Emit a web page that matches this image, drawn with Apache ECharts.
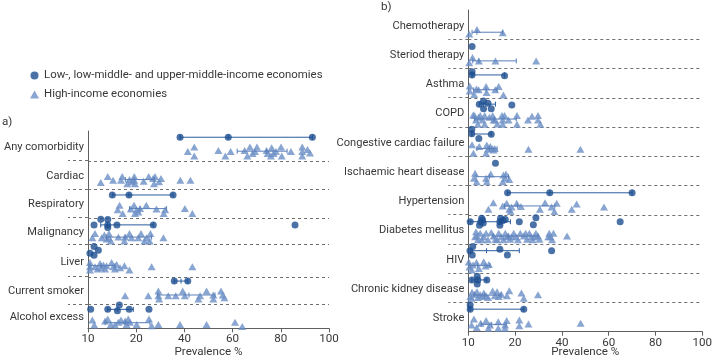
<!DOCTYPE html>
<html><head><meta charset="utf-8">
<script src="https://cdn.jsdelivr.net/npm/echarts@6/dist/echarts.min.js"></script>
<style>html,body{margin:0;padding:0;background:#fff}#c{width:717px;height:360px}</style>
</head><body><div id="c"></div>
<script>
// ---------- categories & ticks ----------
const categoriesA = ['Any comorbidity','Cardiac','Respiratory','Malignancy','Liver','Current smoker','Alcohol excess'];
const categoriesB = ['Chemotherapy','Steriod therapy','Asthma','COPD','Congestive cardiac failure','Ischaemic heart disease','Hypertension','Diabetes mellitus','HIV','Chronic kidney disease','Stroke'];
const xTickValues = [0,20,40,60,80,100];
const xTickLabels = ['10','20','40','60','80','100'];
const legendNames = ['Low-, low-middle- and upper-middle-income economies','High-income economies'];

// ---------- panel a: [prevalence, position within row (0 top .. 1 bottom)] ----------
const lowIncomeA = [
  [[38.2,0.21],[58.2,0.21],[93.1,0.21]],
  [],
  [[10.1,0.2],[17.0,0.2],[35.3,0.2]],
  [[2.5,0.27],[5.3,0.06],[8.2,0.07],[8.2,0.27],[8.2,0.37],[12.0,0.27],[27.1,0.27],[85.9,0.27]],
  [[2.5,0.07],[4.3,0.18],[0.8,0.28],[2.5,0.34]],
  [[35.8,0.16],[41.4,0.16]],
  [[1.1,0.22],[8.2,0.22],[12.2,0.28],[13.0,0.04],[17.1,0.22],[25.3,0.22]]
];
const highIncomeA = [
  [[41.4,0.69],[44.1,0.54],[44.1,0.84],[54.1,0.66],[57.0,0.84],[59.2,0.69],[65.0,0.66],[66.1,0.84],[67.2,0.54],[68.3,0.76],[69.3,0.69],[70.1,0.54],[74.1,0.66],[74.5,0.76],[76.2,0.56],[75.9,0.84],[77.0,0.76],[78.0,0.69],[80.1,0.54],[80.4,0.84],[84.2,0.69],[88.9,0.54],[88.9,0.69],[88.9,0.84],[91.1,0.62],[92.1,0.74]],
  [[5.3,0.76],[8.2,0.55],[10.4,0.68],[14.2,0.55],[13.7,0.68],[16.3,0.81],[17.2,0.66],[18.1,0.74],[19.2,0.55],[19.2,0.68],[19.5,0.81],[23.1,0.72],[25.2,0.55],[27.0,0.62],[27.4,0.81],[27.8,0.55],[30.3,0.62],[29.5,0.74],[38.3,0.68],[42.5,0.68]],
  [[12.3,0.72],[13.1,0.56],[14.4,0.85],[17.8,0.69],[19.1,0.56],[19.5,0.85],[20.2,0.72],[20.9,0.8],[21.6,0.68],[24.2,0.56],[28.4,0.69],[32.0,0.72],[31.4,0.85],[40.2,0.68],[43.3,0.85]],
  [[1.8,0.75],[2.9,0.59],[5.7,0.75],[6.8,0.65],[7.7,0.8],[8.7,0.59],[8.7,0.75],[9.5,0.88],[12.6,0.73],[15.1,0.88],[15.4,0.73],[17.2,0.59],[18.1,0.75],[20.9,0.75],[22.0,0.59],[23.4,0.88],[24.3,0.75],[25.9,0.59],[25.6,0.88],[31.3,0.75]],
  [[0.8,0.56],[0.8,0.69],[0.8,0.79],[2.9,0.69],[4.0,0.76],[5.0,0.59],[5.4,0.72],[6.4,0.64],[7.1,0.76],[7.7,0.66],[9.8,0.56],[10.5,0.69],[11.2,0.76],[11.9,0.62],[13.3,0.72],[15.1,0.66],[17.2,0.79],[26.4,0.69],[43.3,0.69]],
  [[15.4,0.7],[25.0,0.7],[29.2,0.52],[29.2,0.7],[29.5,0.82],[33.3,0.7],[36.4,0.7],[39.3,0.52],[40.2,0.7],[45.8,0.82],[46.5,0.7],[49.2,0.52],[52.0,0.67],[52.0,0.82],[55.2,0.52],[55.9,0.67],[56.6,0.77]],
  [[1.8,0.66],[2.6,0.86],[7.1,0.7],[8.2,0.62],[9.5,0.84],[11.2,0.86],[12.6,0.75],[13.7,0.66],[15.4,0.7],[16.0,0.84],[16.7,0.62],[17.4,0.75],[20.2,0.84],[26.4,0.9],[25.3,0.62],[29.2,0.84],[38.2,0.84],[49.2,0.84],[61.0,0.75],[64.0,0.93]]
];
// summary lines: [low, middle, high, position within row]
const lowRangeA = [[38.2,58.2,93.1,0.21],null,[10.1,17.0,35.3,0.2],[5.3,8.2,27.1,0.27],null,[35.8,38.6,41.4,0.16],[8.2,12.2,18.8,0.22]];
const highRangeA = [[61.9,74,82.6,0.68],[15.5,19.2,27.5,0.66],[17.2,21.6,32.6,0.68],[7.7,15.4,26.4,0.73],[0.8,5.4,11.2,0.66],[28.9,41.9,52.7,0.67],[7.1,15.4,25.7,0.77]];

// ---------- panel b ----------
const lowIncomeB = [
  [],
  [[1.6,0.25]],
  [[1.6,0.11],[1.6,0.22],[15.5,0.25]],
  [[6.5,0.11],[4.7,0.22],[8.4,0.19],[6.5,0.38],[9.8,0.38],[18.6,0.25]],
  [[1.5,0.08],[1.5,0.23],[9.8,0.25],[4.5,0.39]],
  [[11.6,0.24]],
  [[16.8,0.25],[34.8,0.25],[70.0,0.25]],
  [[0.8,0.24],[4.8,0.36],[5.3,0.25],[5.7,0.12],[6.1,0.18],[6.4,0.28],[13.5,0.24],[13.5,0.36],[13.8,0.12],[14.8,0.2],[15.8,0.16],[21.8,0.24],[27.8,0.34],[28.9,0.1],[64.9,0.24]],
  [[1.9,0.09],[0.7,0.23],[1.7,0.38],[13.5,0.18],[16.7,0.38],[35.6,0.23]],
  [[3.8,0.1],[1.5,0.23],[4.1,0.23],[7.9,0.23],[3.8,0.37]],
  [[0.8,0.09],[0.8,0.23],[23.7,0.23]]
];
const highIncomeB = [
  [[0.4,0.82],[3.7,0.67],[14.7,0.78]],
  [[1.8,0.62],[0.4,0.8],[4.5,0.74],[11.6,0.74],[29.0,0.74]],
  [[0.6,0.6],[0.6,0.77],[2.5,0.89],[3.5,0.7],[4.4,0.73],[7.6,0.62],[7.8,0.82],[11.5,0.73],[13.0,0.62],[15.0,0.91]],
  [[2.1,0.59],[2.7,0.61],[3.3,0.76],[4.1,0.91],[4.4,0.67],[5.1,0.61],[6.1,0.76],[7.0,0.91],[7.0,0.61],[9.0,0.67],[10.4,0.61],[10.8,0.76],[11.4,0.76],[12.4,0.9],[14.4,0.61],[14.7,0.76],[15.5,0.61],[14.7,0.91],[17.2,0.76],[20.8,0.61],[20.8,0.91],[25.5,0.76],[27.2,0.63],[29.8,0.61],[29.8,0.76],[30.8,0.91]],
  [[1.6,0.61],[2.2,0.9],[4.7,0.67],[7.9,0.62],[8.3,0.76],[9.4,0.67],[10.2,0.74],[10.8,0.79],[11.3,0.74],[7.6,0.9],[25.7,0.76],[47.9,0.76]],
  [[2.9,0.58],[2.4,0.75],[3.6,0.87],[7.6,0.75],[9.6,0.61],[7.9,0.87],[15.0,0.64],[15.7,0.75],[16.1,0.61],[17.5,0.8],[14.7,0.87]],
  [[8.6,0.81],[10.7,0.59],[14.7,0.7],[16.4,0.61],[17.5,0.81],[18.5,0.74],[18.1,0.89],[20.7,0.61],[22.5,0.72],[30.6,0.81],[32.8,0.59],[35.6,0.74],[36.8,0.89],[37.8,0.61],[44.2,0.81],[46.3,0.63],[58.0,0.74]],
  [[3.3,0.58],[3.7,0.73],[4.1,0.86],[5.1,0.63],[6.6,0.75],[7.6,0.63],[8.4,0.86],[9.8,0.61],[10.8,0.73],[11.6,0.84],[13.0,0.63],[14.1,0.75],[15.1,0.86],[15.8,0.63],[17.2,0.73],[17.9,0.84],[19.4,0.63],[20.4,0.75],[21.2,0.86],[22.2,0.63],[23.7,0.73],[25.1,0.84],[26.1,0.63],[26.9,0.75],[27.5,0.86],[28.9,0.63],[29.8,0.73],[30.4,0.84],[34.6,0.63],[35.1,0.75],[35.8,0.86],[42.2,0.73],[2.9,0.75],[5.8,0.86],[12.4,0.86],[16.5,0.75],[18.5,0.75],[24.5,0.63],[28.2,0.75],[34.2,0.75],[36.4,0.63]],
  [[0.2,0.62],[0.5,0.79],[2.0,0.72],[3.5,0.63],[4.5,0.84],[6.6,0.61],[7.4,0.75],[8.8,0.7],[1.5,0.89]],
  [[1.6,0.65],[0.9,0.8],[1.3,0.86],[2.7,0.72],[3.7,0.63],[4.1,0.83],[5.1,0.74],[5.9,0.8],[6.6,0.68],[7.6,0.77],[8.4,0.83],[10.4,0.61],[11.3,0.77],[12.3,0.63],[13.0,0.8],[14.1,0.72],[16.5,0.77],[17.5,0.6],[22.7,0.68],[23.7,0.86],[29.8,0.74]],
  [[2.4,0.57],[1.4,0.77],[3.6,0.86],[5.3,0.71],[7.6,0.62],[9.3,0.77],[8.6,0.88],[12.8,0.66],[12.8,0.88],[15.7,0.77],[16.4,0.62],[15.7,0.88],[21.8,0.6],[21.8,0.8],[25.7,0.74],[48.0,0.71]]
];
const lowRangeB = [null,null,[1.6,1.6,15.5,0.22],[4.7,6.5,11.6,0.22],[1.5,1.5,9.8,0.24],null,[16.8,34.8,70.0,0.25],[0.8,13.5,18.0,0.24],[0.8,7.8,21.8,0.23],[1.5,3.9,7.9,0.23],[0.8,0.8,23.7,0.23]];
const highRangeB = [[1.6,3.7,14.7,0.76],[1.9,4.5,20.5,0.74],[2.3,7.6,12.3,0.73],[2.6,11.0,20.5,0.73],[3.7,9.0,12.3,0.74],[3.3,9.0,17.2,0.7],[15.5,21.0,37.0,0.7],[10.5,17.0,29.8,0.73],[0.7,4.0,9.3,0.74],[2.5,7.0,14.0,0.75],[5.5,10.0,16.2,0.75]];

// ---------- layout: relative heights of the rows ----------
const rowWeightsA = [29.7,28.6,28.4,26.6,32.4,27.3,24.3];
const rowWeightsB = [1,1,1,1,1,1,1,1,1,1,1];

// ---------- styles ----------
const FONT = 'Roboto';
const FS = 11.6;
const FS_CAT = 11.1;
const FS_LEG = 11.4;
const TXT = '#383838';
const DARK = '#1d4f91';
const LIGHT = '#6c8ec6';
const DASH = {color:'#6f6f6f', width:1, type:[3,3]};

function edgesOf(w){ const e=[0]; w.forEach(v=>e.push(e[e.length-1]+v)); return e; }
function points(groups, w){
  const e = edgesOf(w), out = [];
  groups.forEach((g,i)=>g.forEach(p=>out.push([p[0], e[i] + p[1]*w[i]])));
  return out;
}
function ranges(list, w){
  const e = edgesOf(w), out = [];
  list.forEach((r,i)=>{ if(r) out.push([r[0], r[1], r[2], e[i] + r[3]*w[i]]); });
  return out;
}
function renderRange(params, api){
  const y = api.value(3);
  const a = api.coord([api.value(0), y]);
  const m = api.coord([api.value(1), y]);
  const b = api.coord([api.value(2), y]);
  const h = 2.5;
  const style = {stroke: api.visual('color'), lineWidth: 1, fill: null};
  return {type:'group', children:[
    {type:'line', shape:{x1:a[0], y1:a[1], x2:b[0], y2:b[1]}, style},
    {type:'line', shape:{x1:a[0], y1:a[1]-h, x2:a[0], y2:a[1]+h}, style},
    {type:'line', shape:{x1:b[0], y1:b[1]-h, x2:b[0], y2:b[1]+h}, style},
    {type:'line', shape:{x1:m[0], y1:m[1]-h, x2:m[0], y2:m[1]+h}, style}
  ]};
}
function renderSeparator(params, api){
  const a = api.coord([api.value(0), api.value(1)]);
  const b = api.coord([api.value(2), api.value(1)]);
  return {type:'line', shape:{x1:a[0], y1:Math.round(a[1])+0.5, x2:b[0], y2:Math.round(b[1])+0.5},
    style:{stroke:DASH.color, lineWidth:1, lineDash:[3,3], fill:null}};
}
function xAxisFor(gi, gap){
  return {
    type:'value', gridIndex:gi, min:0, max:100, interval:20,
    axisLine:{show:true, onZero:false, lineStyle:{color:'#5f5f5f', width:1}},
    axisTick:{show:true, length:4, lineStyle:{color:'#5f5f5f'}},
    axisLabel:{color:TXT, fontSize:FS, fontFamily:FONT, margin:5,
      formatter: v => { const k = xTickValues.indexOf(v); return k >= 0 ? xTickLabels[k] : ''; }},
    splitLine:{show:false},
    name:'Prevalence %', nameLocation:'middle', nameGap:gap, nameMoveOverlap:false,
    nameTextStyle:{color:TXT, fontSize:FS, fontFamily:FONT}
  };
}
function yAxisFor(gi, cats, w){
  const e = edgesOf(w);
  return {
    type:'value', gridIndex:gi, inverse:true, min:0, max:e[e.length-1],
    axisLine:{show:true, onZero:false, lineStyle:{color:'#5f5f5f', width:1}},
    axisTick:{show:true, inside:false, length:20, customValues: e.slice(1, -1), lineStyle:DASH},
    axisLabel:{customValues: cats.map((_,i)=>e[i] + w[i]*0.54),
      formatter: v => { for (let i=0;i<cats.length;i++){ if (v>=e[i] && v<e[i+1]) return cats[i]; } return ''; },
      color:TXT, fontSize:FS_CAT, fontFamily:FONT, margin:4},
    splitLine:{show:false}
  };
}
function panelSeries(gi, low, high, lowR, highR, w){
  const e = edgesOf(w);
  return [
    {type:'custom', xAxisIndex:gi, yAxisIndex:gi, renderItem:renderSeparator,
      encode:{x:[0,2], y:1}, data:e.slice(1,-1).map(v=>[0, v, 100]), z:1, silent:true},
    {type:'scatter', name:legendNames[1], xAxisIndex:gi, yAxisIndex:gi, symbol:'triangle', symbolSize:[8,7],
      itemStyle:{color:LIGHT}, data:points(high, w), z:2, silent:true},
    {type:'custom', xAxisIndex:gi, yAxisIndex:gi, renderItem:renderRange, itemStyle:{color:'#5a7fba'},
      encode:{x:[0,1,2], y:3}, data:ranges(highR, w), z:3, silent:true},
    {type:'custom', xAxisIndex:gi, yAxisIndex:gi, renderItem:renderRange, itemStyle:{color:'#2a5c9e'},
      encode:{x:[0,1,2], y:3}, data:ranges(lowR, w), z:4, silent:true},
    {type:'scatter', name:legendNames[0], xAxisIndex:gi, yAxisIndex:gi, symbol:'circle', symbolSize:7,
      itemStyle:{color:DARK}, data:points(low, w), z:5, silent:true}
  ];
}

const chart = echarts.init(document.getElementById('c'), null, {renderer:'canvas'});
chart.setOption({
  animation:false,
  backgroundColor:'#fff',
  textStyle:{fontFamily:FONT},
  title:[
    {text:'a)', left:-3, top:111, textStyle:{fontSize:FS, fontWeight:'normal', color:TXT, fontFamily:FONT}},
    {text:'b)', left:376, top:-4, textStyle:{fontSize:FS, fontWeight:'normal', color:TXT, fontFamily:FONT}}
  ],
  legend:{
    orient:'vertical', left:25, top:65, itemGap:8, itemWidth:9, itemHeight:8,
    textStyle:{color:TXT, fontSize:FS_LEG, fontFamily:FONT},
    data:[{name:legendNames[0], icon:'circle'},{name:legendNames[1], icon:'triangle'}]
  },
  grid:[
    {left:88, right:388, top:131, bottom:31.7, outerBoundsMode:'none', containLabel:false},
    {left:468.3, right:14.7, top:10, bottom:28.3, outerBoundsMode:'none', containLabel:false}
  ],
  xAxis:[xAxisFor(0, 18), xAxisFor(1, 14)],
  yAxis:[yAxisFor(0, categoriesA, rowWeightsA), yAxisFor(1, categoriesB, rowWeightsB)],
  series:[
    ...panelSeries(0, lowIncomeA, highIncomeA, lowRangeA, highRangeA, rowWeightsA),
    ...panelSeries(1, lowIncomeB, highIncomeB, lowRangeB, highRangeB, rowWeightsB)
  ]
});
</script>
</body></html>
